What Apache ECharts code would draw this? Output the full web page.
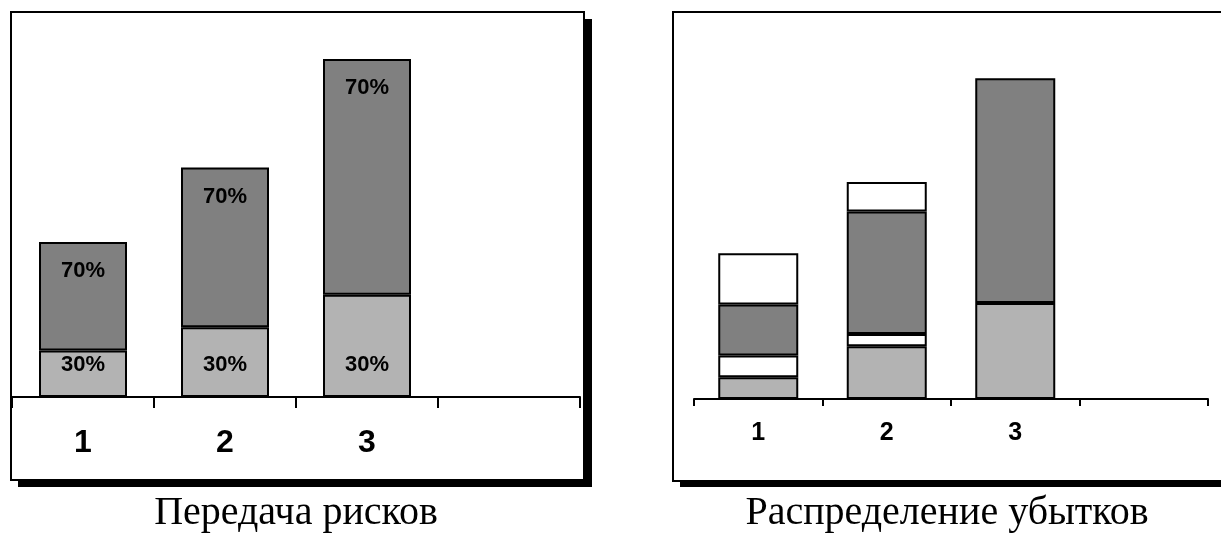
<!DOCTYPE html>
<html>
<head>
<meta charset="utf-8">
<script src="https://cdn.jsdelivr.net/npm/echarts@6/dist/echarts.min.js"></script>
<style>
html,body{margin:0;padding:0;background:#fff;}
#c{width:1221px;height:533px;}
</style>
</head>
<body>
<div id="c"></div>
<script>
// ---- data ----
var categories = ['1', '2', '3', ''];
// Left chart: "Передача рисков"
var leftLower = [30, 45, 66];      // 30% part
var leftUpper = [70, 103, 152];    // 70% part
var leftLowerLabels = ['30%', '30%', '30%'];
var leftUpperLabels = ['70%', '70%', '70%'];
// Right chart: "Распределение убытков" (stack from bottom)
var rightSeg1 = [14, 34, 62];      // light grey
var rightSeg2 = [14, 8, null];     // white
var rightSeg3 = [33, 79, 145];     // dark grey
var rightSeg4 = [33, 19, null];    // white
var titles = ['Передача рисков', 'Распределение убытков'];

var LIGHT = '#b3b3b3', DARK = '#808080', WHITE = '#ffffff';
var chart = echarts.init(document.getElementById('c'));

function seg(name, data, color, xi, labels, pos, dist) {
  var s = {
    name: name, type: 'bar', stack: 'st' + xi, xAxisIndex: xi, yAxisIndex: xi,
    data: data, barWidth: xi === 0 ? 88 : 80,
    itemStyle: {color: color, borderColor: '#000', borderWidth: 2},
    animation: false, silent: true
  };
  if (labels) {
    s.label = {
      show: true, position: pos, distance: dist,
      formatter: function (p) { return labels[p.dataIndex]; },
      fontFamily: 'Liberation Sans, Arial, sans-serif', fontWeight: 'bold',
      fontSize: 22, color: '#000'
    };
  }
  return s;
}

var option = {
  backgroundColor: '#fff',
  graphic: [
    {type: 'rect', z: -10, shape: {x: 18, y: 19, width: 574, height: 468}, style: {fill: '#000'}},
    {type: 'rect', z: -9, shape: {x: 11, y: 12, width: 573, height: 468}, style: {fill: '#fff', stroke: '#000', lineWidth: 2}},
    {type: 'rect', z: -10, shape: {x: 680, y: 19, width: 600, height: 468}, style: {fill: '#000'}},
    {type: 'rect', z: -9, shape: {x: 673, y: 12, width: 600, height: 469}, style: {fill: '#fff', stroke: '#000', lineWidth: 2}},
    {type: 'text', x: 296, y: 513, style: {text: titles[0], font: '40px "Liberation Serif", "Times New Roman", serif', fill: '#000', textAlign: 'center', textVerticalAlign: 'middle'}},
    {type: 'text', x: 947, y: 513, style: {text: titles[1], font: '40px "Liberation Serif", "Times New Roman", serif', fill: '#000', textAlign: 'center', textVerticalAlign: 'middle'}}
  ],
  grid: [
    {left: 12, width: 568, top: 9.5, height: 387.5},
    {left: 694, width: 514, top: 11.5, height: 387.5}
  ],
  xAxis: [
    {type: 'category', gridIndex: 0, data: categories,
     axisLine: {lineStyle: {color: '#000', width: 2}},
     axisTick: {show: true, interval: 0, length: 11, lineStyle: {color: '#000', width: 2}},
     axisLabel: {interval: 0, margin: 30, fontSize: 32, fontWeight: 'bold', color: '#000', fontFamily: 'Liberation Sans, Arial, sans-serif'}},
    {type: 'category', gridIndex: 1, data: categories,
     axisLine: {lineStyle: {color: '#000', width: 2}},
     axisTick: {show: true, interval: 0, length: 7, lineStyle: {color: '#000', width: 2}},
     axisLabel: {interval: 0, margin: 22, fontSize: 25, fontWeight: 'bold', color: '#000', fontFamily: 'Liberation Sans, Arial, sans-serif'}}
  ],
  yAxis: [
    {type: 'value', gridIndex: 0, min: 0, max: 250, show: false, splitLine: {show: false}},
    {type: 'value', gridIndex: 1, min: 0, max: 250, show: false, splitLine: {show: false}}
  ],
  series: [
    seg('l1', leftLower, LIGHT, 0, leftLowerLabels, 'insideBottom', 21),
    seg('l2', leftUpper, DARK, 0, leftUpperLabels, 'insideTop', 18),
    seg('r1', rightSeg1, LIGHT, 1),
    seg('r2', rightSeg2, WHITE, 1),
    seg('r3', rightSeg3, DARK, 1),
    seg('r4', rightSeg4, WHITE, 1)
  ]
};
chart.setOption(option);
</script>
</body>
</html>
